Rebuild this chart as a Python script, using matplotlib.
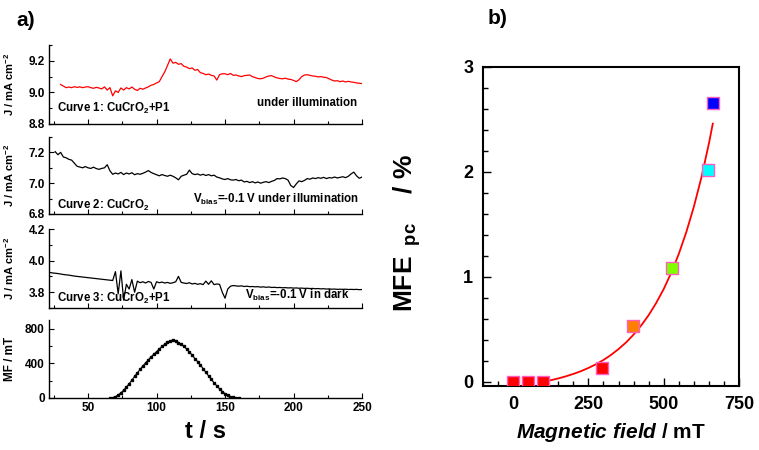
import numpy as np
import matplotlib
matplotlib.use("Agg")
import matplotlib.pyplot as plt
from matplotlib.ticker import MultipleLocator

plt.rcParams['font.family'] = ['Liberation Sans', 'DejaVu Sans']
plt.rcParams['font.weight'] = 'bold'
plt.rcParams['mathtext.fontset'] = 'custom'
plt.rcParams['mathtext.rm'] = 'Liberation Sans:bold'
plt.rcParams['mathtext.bf'] = 'Liberation Sans:bold'
plt.rcParams['mathtext.it'] = 'Liberation Sans:italic:bold'
plt.rcParams['mathtext.default'] = 'rm'

# ---------------- data: panel a ----------------
t1_start, t1_step = 30, 2
curve1 = [9.050, 9.040, 9.030, 9.034, 9.030, 9.036, 9.032, 9.035, 9.030, 9.034,
          9.036, 9.030, 9.026, 9.032, 9.028, 9.022, 9.035, 9.015, 9.030, 8.978,
          9.010, 9.000, 9.028, 9.015, 9.030, 9.022, 9.034, 9.020, 9.012, 9.026,
          9.020, 9.028, 9.035, 9.045, 9.050, 9.060, 9.068, 9.100, 9.130, 9.170,
          9.212, 9.185, 9.190, 9.178, 9.182, 9.165, 9.160, 9.150, 9.155, 9.140,
          9.145, 9.125, 9.120, 9.112, 9.116, 9.108, 9.104, 9.078, 9.112, 9.118,
          9.118, 9.112, 9.120, 9.108, 9.110, 9.104, 9.100, 9.106, 9.108, 9.110,
          9.100, 9.094, 9.088, 9.086, 9.090, 9.098, 9.104, 9.106, 9.098, 9.092,
          9.088, 9.086, 9.090, 9.084, 9.082, 9.076, 9.068, 9.080, 9.100, 9.110,
          9.112, 9.108, 9.104, 9.102, 9.098, 9.100, 9.096, 9.094, 9.086, 9.078,
          9.072, 9.074, 9.068, 9.072, 9.066, 9.070, 9.066, 9.064, 9.060, 9.058,
          9.056]

t2_start, t2_step = 26, 2
curve2 = [7.205, 7.185, 7.200, 7.170, 7.165, 7.155, 7.150, 7.130, 7.110, 7.105,
          7.100, 7.108, 7.100, 7.096, 7.104, 7.095, 7.090, 7.096, 7.100, 7.120,
          7.080, 7.058, 7.066, 7.060, 7.070, 7.056, 7.066, 7.060, 7.068, 7.055,
          7.062, 7.058, 7.064, 7.072, 7.082, 7.070, 7.062, 7.055, 7.048, 7.056,
          7.050, 7.045, 7.052, 7.045, 7.035, 7.022, 7.045, 7.052, 7.058, 7.085,
          7.062, 7.056, 7.060, 7.052, 7.058, 7.050, 7.056, 7.048, 7.052, 7.040,
          7.035, 7.028, 7.024, 7.030, 7.022, 7.020, 7.024, 7.016, 7.020, 7.008,
          7.012, 7.004, 7.010, 7.002, 7.008, 7.000, 7.006, 7.010, 7.004, 7.012,
          7.018, 7.030, 7.028, 7.034, 7.030, 7.020, 6.985, 6.972, 6.995, 7.015,
          7.010, 7.018, 7.030, 7.026, 7.034, 7.030, 7.036, 7.032, 7.038, 7.030,
          7.036, 7.034, 7.040, 7.034, 7.038, 7.042, 7.036, 7.045, 7.060, 7.072,
          7.048, 7.032, 7.040]

t3_start, t3_step = 22, 2
curve3 = [3.925, 3.922, 3.920, 3.918, 3.915, 3.912, 3.910, 3.908, 3.905, 3.902,
          3.900, 3.898, 3.896, 3.894, 3.892, 3.890, 3.888, 3.886, 3.884, 3.882,
          3.880, 3.878, 3.876, 3.874, 3.930, 3.790, 3.935, 3.750, 3.850, 3.820,
          3.880, 3.800, 3.870, 3.860, 3.866, 3.858, 3.868, 3.862, 3.820, 3.866,
          3.860, 3.864, 3.858, 3.862, 3.856, 3.860, 3.866, 3.900, 3.862, 3.858,
          3.855, 3.860, 3.852, 3.856, 3.850, 3.854, 3.848, 3.870, 3.850, 3.872,
          3.848, 3.852, 3.850, 3.800, 3.762, 3.820, 3.838, 3.842, 3.840, 3.838,
          3.840, 3.836, 3.838, 3.835, 3.836, 3.834, 3.835, 3.832, 3.834, 3.831,
          3.833, 3.830, 3.831, 3.829, 3.830, 3.828, 3.829, 3.827, 3.828, 3.826,
          3.827, 3.825, 3.826, 3.824, 3.825, 3.823, 3.824, 3.822, 3.823, 3.821,
          3.822, 3.820, 3.821, 3.819, 3.820, 3.818, 3.819, 3.818, 3.819, 3.817,
          3.818, 3.817, 3.818, 3.816, 3.817]

mf_start, mf_step = 66, 2
mf_values = [0, 5, 15, 35, 60, 90, 125, 165, 205, 250,
             290, 330, 370, 405, 440, 475, 505, 535, 565, 595,
             620, 645, 660, 670, 660, 640, 620, 595, 565, 530,
             495, 455, 420, 380, 340, 295, 255, 215, 175, 140,
             105, 75, 50, 30, 15, 8, 3, 0]

curve_labels = ["Curve 1: CuCrO$_2$+P1", "Curve 2: CuCrO$_2$", "Curve 3: CuCrO$_2$+P1"]
cond_labels = ["under illumination", "V$_{bias}$=-0.1 V under illumination",
               "V$_{bias}$=-0.1 V in dark"]

# ---------------- data: panel b ----------------
field = [0, 50, 100, 294, 398, 528, 647, 663]
mfe = [0.0, 0.0, 0.0, 0.13, 0.53, 1.08, 2.02, 2.66]
point_colors = ['#ff0000', '#ff0000', '#ff0000', '#ff0000', '#ff8000',
                '#80ff00', '#00ffff', '#0000ff']
fit_x = [100, 125, 150, 175, 200, 225, 250, 275, 300, 325, 350, 375, 400,
         425, 450, 475, 500, 525, 550, 575, 600, 625, 650, 663]
fit_y = [0.0, 0.015, 0.032, 0.052, 0.075, 0.101, 0.132, 0.167, 0.208, 0.256,
         0.312, 0.375, 0.450, 0.536, 0.635, 0.751, 0.884, 1.039, 1.218, 1.426,
         1.667, 1.945, 2.27, 2.46]

# ---------------- figure ----------------
W, H = 759, 450
fig = plt.figure(figsize=(W / 100, H / 100), dpi=100)

def rect(l, t, r, b):
    return [l / W, 1 - b / H, (r - l) / W, (b - t) / H]

ax_l, ax_r = 49, 362
boxes = [(45, 124), (137, 214), (229, 308), (320, 398)]
axes = [fig.add_axes(rect(ax_l, tp, ax_r, bt)) for tp, bt in boxes]

series = [(t1_start, t1_step, curve1, 'red'),
          (t2_start, t2_step, curve2, 'black'),
          (t3_start, t3_step, curve3, 'black')]
ylims = [(8.8, 9.3), (6.8, 7.3), (3.7, 4.2)]
yticks = [[8.8, 9.0, 9.2], [6.8, 7.0, 7.2], [3.8, 4.0, 4.2]]
ytl = [['8.8', '9.0', '9.2'], ['6.8', '7.0', '7.2'], ['3.8', '4.0', '4.2']]
curve_y = [0.15, 0.07, 0.08]
cond_xy = [(0.985, 0.23), (0.99, 0.14), (0.96, 0.11)]

for i, (ts, st, vals, col) in enumerate(series):
    ax = axes[i]
    tt = ts + st * np.arange(len(vals))
    ax.plot(tt, vals, color=col, lw=0.9)
    ax.set_ylim(*ylims[i])
    ax.set_yticks(yticks[i])
    ax.set_yticklabels(ytl[i])
    ax.yaxis.set_minor_locator(MultipleLocator(0.1))
    ax.set_ylabel("J / mA cm$^{-2}$", fontsize=8, fontweight='bold')
    ax.text(0.025, curve_y[i], curve_labels[i], transform=ax.transAxes, fontsize=8.3,
            fontweight='bold', ha='left', va='baseline')
    ax.text(cond_xy[i][0], cond_xy[i][1], cond_labels[i], transform=ax.transAxes,
            fontsize=8.3, fontweight='bold', ha='right', va='baseline')

axm = axes[3]
tm = mf_start + mf_step * np.arange(len(mf_values))
axm.plot(tm, mf_values, color='black', lw=0.8, marker='s', ms=1.8)
axm.set_ylim(0, 900)
axm.set_yticks([0, 400, 800])
axm.yaxis.set_minor_locator(MultipleLocator(200))
axm.set_ylabel("MF / mT", fontsize=8.5, fontweight='bold')
axm.set_xlabel("t / s", fontsize=17, fontweight='bold', labelpad=4)

for k, ax in enumerate(axes):
    ax.set_xlim(21.5, 250)
    ax.set_xticks([50, 100, 150, 200, 250])
    ax.xaxis.set_minor_locator(MultipleLocator(25))
    for s in ['top', 'right']:
        ax.spines[s].set_visible(False)
    for s in ['left', 'bottom']:
        ax.spines[s].set_linewidth(1.0)
    ax.tick_params(which='both', direction='in', labelsize=8.5, width=0.8)
    ax.tick_params(which='major', length=3.5, pad=3)
    ax.tick_params(which='minor', length=2)
    for lab in ax.get_xticklabels() + ax.get_yticklabels():
        lab.set_fontweight('bold')
    if k < 3:
        ax.tick_params(axis='x', labelbottom=False)
    ax.yaxis.set_label_coords(-0.105, 0.5)

fig.text(26 / W, 1 - 20 / H, "a)", fontsize=15, fontweight='bold', ha='center', va='center')

# ---------------- panel b ----------------
axb = fig.add_axes(rect(483, 67, 739, 386))
axb.plot(fit_x, fit_y, color='red', lw=1.3, zorder=2)
axb.scatter(field, mfe, marker='s', s=75, c=point_colors, edgecolors='#ff5ec0',
            linewidths=1.0, zorder=3)
axb.set_xlim(-100, 750)
axb.set_ylim(-0.04, 3)
axb.set_xticks([0, 250, 500, 750])
axb.xaxis.set_minor_locator(MultipleLocator(50))
axb.set_yticks([0, 1, 2, 3])
axb.yaxis.set_minor_locator(MultipleLocator(0.2))
axb.tick_params(which='both', direction='in', labelsize=13, width=1.0,
                top=False, right=False)
axb.tick_params(which='major', length=6, pad=7)
axb.tick_params(which='minor', length=3.5)
for lab in axb.get_xticklabels() + axb.get_yticklabels():
    lab.set_fontweight('bold')
for s in axb.spines.values():
    s.set_linewidth(1.5)
axb.set_xlabel(r"$\mathit{Magnetic\ field}$ / mT", fontsize=15, fontweight='bold', labelpad=6)
axb.set_ylabel(r"MFE$_{\ \ pc}$    / %", fontsize=19, fontweight='bold')
axb.yaxis.set_label_coords(-0.235, 0.48)

fig.text(498 / W, 1 - 19 / H, "b)", fontsize=15, fontweight='bold', ha='center', va='center')

fig.savefig("out.png", dpi=100)
